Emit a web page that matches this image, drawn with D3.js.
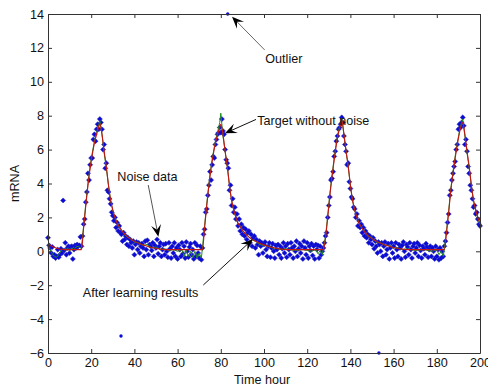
<!DOCTYPE html>
<html>
<head>
<meta charset="utf-8">
<script src="https://cdn.jsdelivr.net/npm/d3@7"></script>
<style>
  body { margin: 0; background: #fff; }
  svg { display: block; font-family: Arial, "Liberation Sans", sans-serif; }
  .axis path, .axis line { stroke: #333; }
  .axis text { fill: #111; font-size: 12.6px; }
</style>
</head>
<body>
<div id="chart"></div>
<script>
// noisy measurements, one value every half hour from 0 to 200 h (rows of 10 hours)
const noiseRows = [
  [0.8, 0.35, 0.2, -0.1, 0.25, -0.3, -0.2, -0.4, -0.3, 0.1, -0.35, -0.2, 0.15, -0.1, 3.0, 0.05, 0.5, -0.2, 0.2, 0.3],
  [-0.1, 0.25, 0.3, -0.45, 0.1, 0.35, 0.2, 0.4, 0.3, 0.35, 0.85, 0.3, 0.9, 1.6, 1.9, 2.9, 3.5, 4.6, 4.2, 5.1],
  [5.5, 5.5, 6.6, 6.9, 6.5, 7.2, 7.5, 7.2, 7.8, 7.6, 7.2, 6.0, 6.3, 4.9, 5.2, 3.6, 3.5, 3.1, 2.8, 2.3],
  [2.1, 1.8, 2.0, 1.4, 1.7, 1.2, 1.5, 1.1, 1.0, 0.6, 1.1, 0.7, 0.9, 0.4, 0.8, 0.3, 0.7, 0.5, 0.2, 0.6],
  [-0.2, 0.4, 0.55, 0.1, 0.5, -0.1, 0.3, 0.45, 0.2, -0.3, 0.6, 0.1, 0.65, -0.2, 0.4, 0.3, 0.05, 0.5, -0.3, 0.35],
  [0.2, 0.7, -0.15, 0.3, 0.5, -0.3, 0.1, 0.4, -0.2, 0.45, 0.0, -0.35, 0.5, 0.15, -0.4, 0.3, -0.1, 0.5, -0.3, 0.2],
  [-0.45, 0.35, 0.1, -0.3, 0.5, -0.15, 0.3, -0.4, 0.55, 0.0, -0.35, 0.25, 0.45, -0.2, 0.1, -0.45, 0.5, -0.3, 0.35, -0.1],
  [-0.4, 0.3, -0.5, 0.2, 1.0, 1.3, 2.3, 2.5, 3.3, 3.9, 4.7, 4.2, 5.1, 5.6, 5.5, 6.3, 6.6, 6.9, 7.0, 7.3],
  [7.0, 7.8, 7.1, 6.9, 6.0, 5.4, 5.2, 4.9, 3.6, 3.9, 2.7, 3.1, 2.3, 2.6, 1.9, 2.2, 1.5, 1.9, 1.2, 1.6],
  [1.0, 1.4, 0.9, 1.3, 0.7, 1.1, 1.2, 0.5, 1.0, 0.3, 0.8, 0.9, 0.2, 0.7, 0.4, -0.2, 0.6, 0.3, 0.5, -0.1],
  [0.4, 0.55, 0.1, -0.3, 0.3, 0.5, -0.35, 0.2, 0.45, 0.0, -0.4, 0.35, 0.1, 0.4, -0.2, 0.3, -0.4, 0.15, 0.5, -0.1],
  [0.3, -0.35, 0.45, 0.1, -0.2, 0.5, 0.2, -0.4, 0.3, 0.0, 0.6, -0.3, 0.15, 0.45, -0.1, 0.3, -0.45, 0.6, 0.2, -0.2],
  [0.5, -0.4, 0.3, 0.05, 0.45, -0.25, 0.3, -0.45, 0.4, 0.1, 0.35, -0.4, 0.3, -0.2, 0.0, 0.2, 0.5, 0.9, 1.1, 2.0],
  [2.7, 3.2, 4.2, 4.3, 4.7, 5.6, 5.9, 6.5, 6.8, 7.2, 7.3, 7.5, 7.9, 7.6, 6.8, 6.3, 5.9, 5.1, 5.2, 4.1],
  [3.7, 3.2, 3.1, 2.6, 2.5, 2.0, 2.2, 1.5, 1.8, 1.4, 1.6, 1.1, 1.4, 0.9, 1.2, 0.8, 1.0, 0.5, 0.9, 0.7],
  [0.4, 0.8, 0.15, 0.6, 0.3, -0.1, 0.55, 0.4, 0.0, 0.5, -0.3, 0.3, 0.55, -0.2, 0.1, 0.45, -0.45, 0.2, 0.5, -0.1],
  [0.3, -0.4, 0.5, 0.1, -0.3, 0.4, 0.2, -0.45, 0.35, 0.55, 0.0, -0.35, 0.4, 0.25, -0.2, 0.5, 0.1, -0.4, 0.3, 0.45],
  [-0.1, 0.2, 0.5, -0.3, 0.35, 0.05, -0.4, 0.3, 0.15, -0.2, 0.45, 0.25, -0.35, 0.1, 0.3, -0.3, 0.2, 0.0, -0.45, 0.3],
  [-0.3, 0.1, -0.5, 0.2, -0.4, 0.0, -0.3, 0.3, 0.6, 1.1, 1.7, 2.2, 3.3, 3.6, 4.2, 4.6, 5.0, 5.3, 6.0, 6.3],
  [7.2, 7.5, 7.3, 7.6, 7.9, 7.4, 6.3, 6.6, 5.9, 5.0, 4.6, 3.9, 3.6, 3.1, 2.6, 2.7, 2.2, 2.3, 1.9, 1.6],
  [1.5]
];

// the big outliers (drawn as small dots)
const outliers = [[83.2, 14], [33.8, -5], [153.2, -6]];

// target without noise (green), [hour, mRNA]
const target = [
  [0,0.35],[1,0.1],[2,-0.15],[3,-0.3],[4,-0.35],[5,-0.2],[6,0.05],[7,0.15],[8,0.05],[9,0.2],[10,0.0],
  [11,0.2],[12,0.1],[13,0.25],[14,0.3],[15,0.2],[15.5,0.25],[16.5,1.5],[17.5,2.8],[18.5,4.0],[19.5,5.0],
  [20.5,5.8],[21.5,6.5],[22.5,7.0],[23.5,7.45],[24,7.7],[25,6.9],[26,5.8],[27,4.9],[28,3.9],[29,3.0],
  [30,2.4],[31,2.0],[32,1.7],[33,1.4],[34,1.25],[36,0.9],[38,0.75],[40,0.55],[42,0.5],[44,0.35],[46,0.4],
  [48,0.2],[50,0.25],[52,0.1],[54,0.15],[56,0.05],[58,0.1],[60,0.0],[62,0.1],[63,-0.3],[64,0.05],[65,-0.3],
  [66,0.0],[67,-0.35],[68,0.0],[69,-0.4],[70,-0.1],[71,-0.4],[71.5,0.2],[72.5,1.5],[73.5,2.8],[74.5,4.0],
  [75.5,5.0],[76.5,5.8],[77.5,6.5],[78.5,7.0],[79.5,7.6],[80,8.15],[81,6.8],[82,5.9],[83,5.0],[84,3.9],
  [85,3.0],[86,2.4],[87,2.0],[88,1.6],[89,1.5],[90,1.2],[92,1.0],[94,0.7],[96,0.6],[98,0.4],[100,0.35],
  [102,0.3],[104,0.2],[106,0.15],[108,0.1],[110,0.15],[114,0.05],[118,0.1],[122,0.0],[124,0.1],[125,-0.15],
  [126,0.05],[127,-0.2],[127.5,0.15],[128.5,0.9],[129.5,2.1],[130.5,3.4],[131.5,4.5],[132.5,5.5],[133.5,6.4],
  [134.5,7.1],[135.5,7.6],[136,7.85],[137,6.9],[138,5.9],[139,5.0],[140,3.9],[141,3.0],[142,2.4],[143,2.0],
  [144,1.7],[145,1.4],[146,1.3],[148,0.9],[150,0.8],[152,0.55],[154,0.5],[156,0.35],[158,0.35],[160,0.2],
  [162,0.2],[164,0.1],[166,0.15],[170,0.05],[174,0.1],[178,0.0],[180,0.1],[181,-0.2],[182,0.0],[183,-0.3],
  [183.5,0.15],[184.5,1.2],[185.5,2.4],[186.5,3.7],[187.5,4.7],[188.5,5.6],[189.5,6.4],[190.5,7.1],
  [191.5,7.6],[192,7.8],[193,6.8],[194,5.8],[195,4.9],[196,3.9],[197,3.0],[198,2.4],[199,1.95],[200,1.6]
];

// after learning results (red), [hour, mRNA]
const learned = [
  [0,0.45],[2,0.28],[4,0.18],[6,0.12],[8,0.1],[15.5,0.1],[16.5,1.4],[17.5,2.7],[18.5,3.9],[19.5,4.9],
  [20.5,5.7],[21.5,6.4],[22.5,6.9],[23.5,7.35],[24,7.55],[25,6.9],[26,5.9],[27,5.0],[28,3.9],[29,3.0],
  [30,2.45],[31,2.0],[32,1.65],[33,1.45],[34,1.25],[36,0.96],[38,0.75],[40,0.6],[42,0.47],[44,0.38],
  [46,0.3],[48,0.22],[50,0.17],[52,0.13],[54,0.1],[71.5,0.1],[72.5,1.4],[73.5,2.7],[74.5,3.9],[75.5,4.9],
  [76.5,5.7],[77.5,6.4],[78.5,6.9],[79.5,7.3],[80,7.5],[81,6.9],[82,5.9],[83,5.0],[84,3.9],[85,3.0],
  [86,2.45],[87,2.0],[88,1.65],[89,1.45],[90,1.25],[92,0.96],[94,0.75],[96,0.6],[98,0.47],[100,0.38],
  [102,0.3],[104,0.22],[106,0.17],[108,0.13],[110,0.1],[127.5,0.1],[128.5,0.8],[129.5,2.0],[130.5,3.3],
  [131.5,4.4],[132.5,5.4],[133.5,6.3],[134.5,7.0],[135.5,7.5],[136,7.75],[137,6.9],[138,5.9],[139,5.0],
  [140,3.9],[141,3.0],[142,2.45],[143,2.0],[144,1.65],[145,1.45],[146,1.25],[148,0.96],[150,0.75],
  [152,0.6],[154,0.47],[156,0.38],[158,0.3],[160,0.22],[162,0.17],[164,0.13],[166,0.1],[183.5,0.1],
  [184.5,1.1],[185.5,2.3],[186.5,3.6],[187.5,4.6],[188.5,5.5],[189.5,6.3],[190.5,7.0],[191.5,7.5],
  [192,7.6],[193,6.9],[194,5.9],[195,5.0],[196,3.9],[197,3.0],[198,2.45],[199,2.0],[200,1.65]
];

const xTicks = [0, 20, 40, 60, 80, 100, 120, 140, 160, 180, 200];
const yTicks = [-6, -4, -2, 0, 2, 4, 6, 8, 10, 12, 14];

// annotation text anchors and arrows (data units)
const notes = [
  { text: "Outlier", at: [100.6, 11.36], from: [100.3, 11.88], to: [85.2, 13.84], stroke: "#666" },
  { text: "Target without noise", at: [96.9, 7.72], from: [96.3, 7.78], to: [81.9, 6.96], stroke: "#111" },
  { text: "Noise data", at: [32.1, 4.40], from: [46.4, 3.91], to: [51.1, 0.86], stroke: "#555" },
  { text: "After learning results", at: [16.1, -2.46], from: [71.9, -1.99], to: [94.8, 0.71], stroke: "#111" }
];

var width = 488, height = 389;
var margin = {top: 14, right: 8, bottom: 36, left: 48};
var w = width - margin.left - margin.right,
    h = height - margin.top - margin.bottom;

var svg = d3.select("#chart").append("svg")
  .attr("width", width)
  .attr("height", height);
var g = svg.append("g")
  .attr("transform", "translate(" + margin.left + "," + margin.top + ")");

var x = d3.scaleLinear().domain([0, 200]).range([0, w]);
var y = d3.scaleLinear().domain([-6, 14]).range([h, 0]);

var hours = d3.range(0, 200.5, 0.5);
var noise = noiseRows.flat().map((v, i) => [hours[i], v]);

// noise markers (small diamonds)
var diamond = d3.symbol().type(d3.symbolSquare).size(13);
g.append("g").selectAll("path")
  .data(noise)
  .enter().append("path")
  .attr("d", diamond)
  .attr("transform", d => "translate(" + x(d[0]) + "," + y(d[1]) + ") rotate(45)")
  .attr("fill", "#0a0ad8")
  .attr("stroke", "#2a2ab8")
  .attr("stroke-width", 0.5);

g.append("g").selectAll("circle")
  .data(outliers)
  .enter().append("circle")
  .attr("cx", d => x(d[0]))
  .attr("cy", d => y(d[1]))
  .attr("r", 1.7)
  .attr("fill", "#0a0ad8");

// target line (green)
g.append("path")
  .datum(target)
  .attr("fill", "none")
  .attr("stroke", "#1c8a1c")
  .attr("stroke-width", 1)
  .attr("d", d3.line().x(d => x(d[0])).y(d => y(d[1])));

// learned line (red)
g.append("path")
  .datum(learned)
  .attr("fill", "none")
  .attr("stroke", "#c41414")
  .attr("stroke-width", 1.1)
  .attr("d", d3.line().curve(d3.curveMonotoneX).x(d => x(d[0])).y(d => y(d[1])));

// axes with inward ticks on all four sides
g.append("g").attr("class", "axis")
  .attr("transform", "translate(0," + h + ")")
  .call(d3.axisBottom(x).tickValues(xTicks).tickSizeInner(-4).tickSizeOuter(0).tickPadding(5));
g.append("g").attr("class", "axis")
  .call(d3.axisLeft(y).tickValues(yTicks).tickSizeInner(-4).tickSizeOuter(0).tickPadding(4));
g.append("g").attr("class", "axis")
  .call(d3.axisTop(x).tickValues(xTicks).tickSizeInner(-4).tickSizeOuter(0).tickFormat(""));
g.append("g").attr("class", "axis")
  .attr("transform", "translate(" + w + ",0)")
  .call(d3.axisRight(y).tickValues(yTicks).tickSizeInner(-4).tickSizeOuter(0).tickFormat(""));

// axis titles
svg.append("text")
  .attr("x", margin.left + w / 2 - 2)
  .attr("y", 384)
  .attr("text-anchor", "middle")
  .style("font-size", "12.6px")
  .attr("fill", "#111")
  .text("Time hour");
svg.append("text")
  .attr("transform", "translate(19," + (margin.top + h / 2) + ") rotate(-90)")
  .attr("text-anchor", "middle")
  .style("font-size", "12.6px")
  .attr("fill", "#111")
  .text("mRNA");

// annotations
notes.forEach(function(n) {
  var x1 = x(n.from[0]), y1 = y(n.from[1]);
  var x2 = x(n.to[0]), y2 = y(n.to[1]);
  var dx = x1 - x2, dy = y1 - y2, len = Math.sqrt(dx * dx + dy * dy);
  var ux = dx / len, uy = dy / len;
  var L = 12, W = 5;
  g.append("line")
    .attr("x1", x1).attr("y1", y1)
    .attr("x2", x2 + ux * 6).attr("y2", y2 + uy * 6)
    .attr("stroke", n.stroke)
    .attr("stroke-width", 1);
  var pts = [
    [x2, y2],
    [x2 + ux * L - uy * W, y2 + uy * L + ux * W],
    [x2 + ux * L * 0.6, y2 + uy * L * 0.6],
    [x2 + ux * L + uy * W, y2 + uy * L - ux * W]
  ];
  g.append("polygon")
    .attr("points", pts.map(p => p.join(",")).join(" "))
    .attr("fill", "#000");
  g.append("text")
    .attr("x", x(n.at[0]))
    .attr("y", y(n.at[1]))
    .attr("dy", "0.35em")
    .style("font-size", "12.6px")
    .attr("fill", "#111")
    .text(n.text);
});
</script>
</body>
</html>
